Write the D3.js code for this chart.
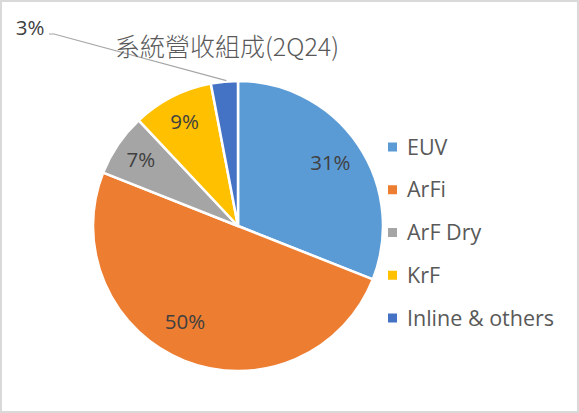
<!DOCTYPE html>
<html>
<head>
<meta charset="utf-8">
<script src="https://cdn.jsdelivr.net/npm/d3@7"></script>
<style>
  body { margin: 0; background: #fff; }
  svg { display: block; }
  .lbl { font-family: "Open Sans", "Noto Sans", sans-serif; font-size: 20.5px; fill: #404040; }
  .legend { font-family: "Open Sans", "Noto Sans", sans-serif; font-size: 21.5px; fill: #595959; }
  .plotTitle { font-family: "Noto Sans CJK TC", sans-serif; font-size: 25px; font-weight: 300; fill: #595959; }
</style>
</head>
<body>
<svg id="chart" width="579" height="413"></svg>
<script>
// data
let categories = ["EUV", "ArFi", "ArF Dry", "KrF", "Inline & others"];
let shares = [31, 50, 7, 9, 3];
let colors = ["#5B9BD5", "#ED7D31", "#A5A5A5", "#FFC000", "#4472C4"];
let title = "系統營收組成(2Q24)";

function pie_chart(axis_key, cx = 238, cy = 226, radius = 145) {
  let svg = d3.select(`#${axis_key}`);

  // chart border
  svg
    .append("rect")
    .attr("x", 1)
    .attr("y", 1)
    .attr("width", 577)
    .attr("height", 411)
    .attr("fill", "#fff")
    .attr("stroke", "#d9d9d9")
    .attr("stroke-width", 2);

  let colorScale = d3.scaleOrdinal().domain(categories).range(colors);
  let pie = d3
    .pie()
    .sort(null)
    .value(function (d) {
      return d;
    });
  let arcs = pie(shares);
  let arc = d3.arc().innerRadius(0).outerRadius(radius);

  let g = svg.append("g").attr("transform", `translate(${cx},${cy})`);

  g.selectAll(".slice")
    .data(arcs)
    .enter()
    .append("path")
    .attr("class", "slice")
    .attr("d", arc)
    .attr("fill", function (d, i) {
      return colorScale(categories[i]);
    })
    .attr("stroke", "#fff")
    .attr("stroke-width", 2.5)
    .attr("stroke-linejoin", "round");

  // inside labels (skip the tiny slice); excel pushes small ones outward
  // and nudges the big one a bit
  function labelPos(d) {
    let r = d.data < 10 ? radius * 0.81 : radius * 0.77;
    let p = d3.arc().innerRadius(r).outerRadius(r).centroid(d);
    if (d.data >= 50) {
      p = [p[0] - 12, p[1] - 8];
    }
    return p;
  }
  g.selectAll(".lbl")
    .data(arcs.filter(function (d) {
      return d.data >= 5;
    }))
    .enter()
    .append("text")
    .attr("class", "lbl")
    .attr("text-anchor", "middle")
    .attr("dy", "0.35em")
    .attr("transform", function (d) {
      return `translate(${labelPos(d)})`;
    })
    .text(function (d) {
      return d.data + "%";
    });

  // outside label with leader line for the small slice
  arcs
    .filter(function (d) {
      return d.data < 5;
    })
    .forEach(function (d) {
      let mid = (d.startAngle + d.endAngle) / 2;
      let ex = Math.sin(mid) * radius;
      let ey = -Math.cos(mid) * radius;
      let lx = 30 - cx;
      let ly = 28 - cy;
      g.append("polyline")
        .attr("points", `${lx + 19},${ly + 6} ${lx + 24},${ly + 6} ${ex + 2},${ey - 1}`)
        .attr("fill", "none")
        .attr("stroke", "#a6a6a6")
        .attr("stroke-width", 1.2);
      g.append("text")
        .attr("class", "lbl")
        .attr("text-anchor", "middle")
        .attr("dy", "0.35em")
        .attr("x", lx)
        .attr("y", ly)
        .text(d.data + "%");
    });

  // title
  svg
    .append("text")
    .attr("x", 227)
    .attr("y", 56)
    .attr("text-anchor", "middle")
    .attr("class", "plotTitle")
    .text(title);

  // legend
  categories.forEach(function (d, i) {
    let lgnd = svg
      .append("g")
      .attr("transform", `translate(${388},${147 + i * 42.75})`);
    lgnd
      .append("rect")
      .attr("x", 0)
      .attr("y", -4.5)
      .attr("width", 9)
      .attr("height", 9)
      .attr("fill", colorScale(d));
    lgnd
      .append("text")
      .attr("class", "legend")
      .attr("x", 19)
      .attr("dy", "0.35em")
      .text(d);
  });
}

pie_chart("chart");
</script>
</body>
</html>
